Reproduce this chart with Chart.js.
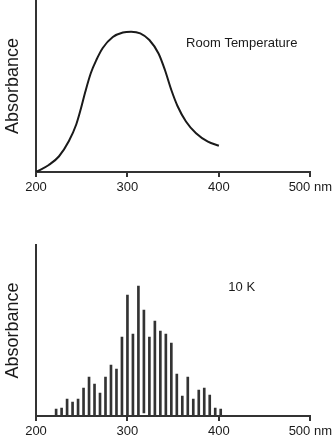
<!DOCTYPE html>
<html>
<head>
<meta charset="utf-8">
<script src="https://cdn.jsdelivr.net/npm/chart.js@4"></script>
<style>
  html, body { margin: 0; padding: 0; background: #fff; }
  body { width: 335px; height: 443px; position: relative; overflow: hidden; }
  .panel { position: absolute; left: 0; width: 335px; }
  #roomPanel { top: 0; height: 202px; }
  #coldPanel { top: 220px; height: 223px; }
</style>
</head>
<body>
<div class="panel" id="roomPanel"><canvas id="roomChart"></canvas></div>
<div class="panel" id="coldPanel"><canvas id="coldChart"></canvas></div>
<script>
// room temperature band: wavelength (nm) and absorbance (arb. units)
const roomWavelength = [200, 214, 225, 236, 244, 249, 254, 260, 266, 273, 284, 295, 304,
                        314, 324, 334, 341, 348, 355, 364, 375, 388, 400];
const roomAbsorbance = [0, 7, 15.5, 31, 47.5, 63, 80.5, 99, 112, 124, 135, 139.5, 140.3,
                        138.7, 132, 118.5, 102, 82, 65.5, 50.5, 38.7, 30.3, 26.3];

// 10 K vibronic lines, 6 nm apart
const coldWavelength = [222, 228, 234, 240, 246, 252, 258, 264, 270, 276, 282, 288, 294, 300, 306, 312,
                        318, 324, 330, 336, 342, 348, 354, 360, 366, 372, 378, 384, 390, 396, 402];
const coldAbsorbance = [7, 8, 17, 14, 17, 28, 39, 32, 23, 39, 51, 47, 79, 121, 82, 130,
                        106, 79, 95, 85, 82, 73, 42, 20, 39, 17, 26, 28, 21, 8, 7];
const coldBase = [0, 0, 0, 0, 0, 0, 0, 0, 0, 0, 0, 0, 0, 0, 0, 0,
                  3, 0, 0, 0, 0, 0, 0, 0, 0, 0, 0, 0, 0, 0, 0];

const xTicks = [200, 300, 400, 500];
const xUnit = 'nm';

const ink = '#1a1a1a';
const axisInk = '#333';
const fontFamily = '"Liberation Sans", Arial, sans-serif';

// draws a text note at a (wavelength, absorbance) spot
const notePlugin = {
    id: 'note',
    afterDatasetsDraw(chart, args, opts) {
        if (!opts.text) return;
        const ctx = chart.ctx;
        ctx.save();
        ctx.font = '13px ' + fontFamily;
        ctx.fillStyle = ink;
        ctx.textAlign = 'center';
        ctx.textBaseline = 'middle';
        ctx.fillText(opts.text, chart.scales.x.getPixelForValue(opts.x), chart.scales.y.getPixelForValue(opts.y));
        ctx.restore();
    }
};

function axes(yMax, xHeight) {
    return {
        x: {
            type: 'linear',
            min: 200,
            max: 500,
            offset: false,
            afterBuildTicks: scale => { scale.ticks = xTicks.map(v => ({value: v})); },
            afterFit: scale => { scale.height = xHeight; },
            border: {display: true, color: axisInk, width: 2},
            grid: {display: true, offset: false, drawOnChartArea: false, drawTicks: true, tickLength: 5, color: axisInk, lineWidth: 2},
            ticks: {
                padding: 3,
                color: ink,
                maxRotation: 0,
                autoSkip: false,
                font: {family: fontFamily, size: 13},
                callback: v => v === 500 ? v + ' ' + xUnit : String(v)
            }
        },
        y: {
            min: 0,
            max: yMax,
            afterFit: scale => { scale.width = 36; },
            border: {display: true, color: axisInk, width: 2},
            grid: {display: false},
            ticks: {display: false},
            title: {
                display: true,
                text: 'Absorbance',
                color: ink,
                padding: {top: 2, bottom: 0},
                font: {family: fontFamily, size: 18}
            }
        }
    };
}

Chart.defaults.animation = false;

new Chart(document.getElementById('roomChart'), {
    type: 'line',
    data: {
        datasets: [{
            data: roomWavelength.map((w, i) => ({x: w, y: roomAbsorbance[i]})),
            borderColor: ink,
            borderWidth: 2,
            pointRadius: 0,
            cubicInterpolationMode: 'monotone',
            fill: false
        }]
    },
    options: {
        responsive: true,
        maintainAspectRatio: false,
        layout: {padding: {left: 0, right: 24, top: 0, bottom: 0}},
        scales: axes(172, 30),
        plugins: {
            legend: {display: false},
            tooltip: {enabled: false},
            note: {text: 'Room Temperature', x: 425, y: 129}
        }
    },
    plugins: [notePlugin]
});

new Chart(document.getElementById('coldChart'), {
    type: 'bar',
    data: {
        datasets: [{
            data: coldWavelength.map((w, i) => ({x: w, y: [coldBase[i], coldAbsorbance[i]]})),
            backgroundColor: axisInk,
            borderWidth: 0,
            barThickness: 2
        }]
    },
    options: {
        responsive: true,
        maintainAspectRatio: false,
        layout: {padding: {left: 0, right: 24, top: 25, bottom: 0}},
        scales: axes(171, 27),
        plugins: {
            legend: {display: false},
            tooltip: {enabled: false},
            note: {text: '10 K', x: 425, y: 129}
        }
    },
    plugins: [notePlugin]
});
</script>
</body>
</html>
